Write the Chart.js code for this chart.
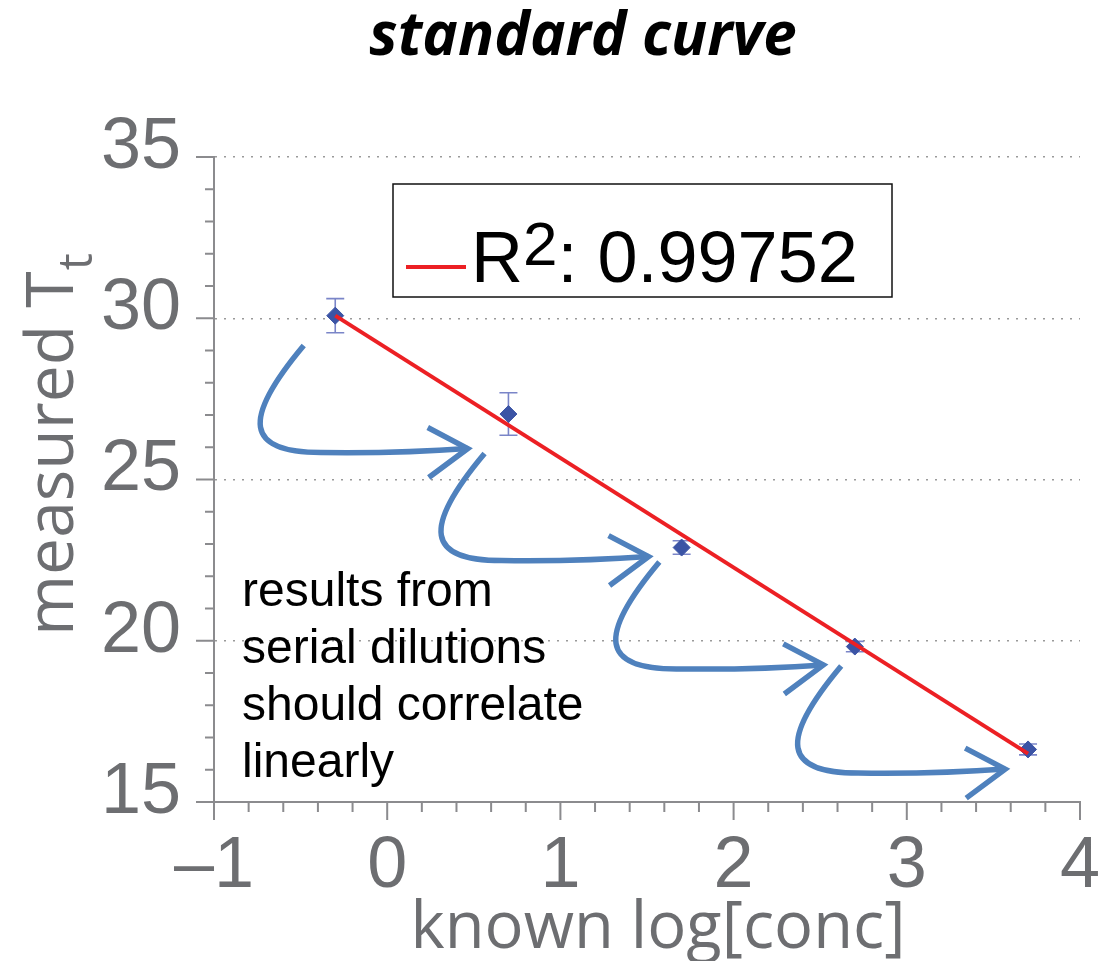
<!DOCTYPE html>
<html>
<head>
<meta charset="utf-8">
<script src="https://cdn.jsdelivr.net/npm/chart.js@4.4.1/dist/chart.umd.min.js"></script>
<style>
html, body { margin: 0; padding: 0; background: #fff; }
#wrap { width: 1099px; height: 961px; }
</style>
</head>
<body>
<div id="wrap"><canvas id="std-curve" width="1099" height="961"></canvas></div>
<script>
// serial dilution standards
const logConc = [-0.3, 0.7, 1.7, 2.7, 3.7];
const measuredTt = [30.08, 27.03, 22.89, 19.82, 16.63];
const errTt = [0.53, 0.66, 0.21, 0.16, 0.17];

// regression line end points
const fitX = [-0.3, 3.7];
const fitY = [30.08, 16.5];

const xTicks = [-1, 0, 1, 2, 3, 4];
const yTicks = [15, 20, 25, 30, 35];

// where each blue arrow points to (data units)
const arrowTipX = [0.465, 1.509, 2.518, 3.568];
const arrowTipY = [25.96, 22.61, 19.25, 16.02];

const noteLines = ["results from", "serial dilutions", "should correlate", "linearly"];
const rSquared = "0.99752";

const labelGray = '#6d6e71';
const axisGray = '#8b8b8e';
const pointBlue = '#3b54a5';
const errBlue = '#7a85c8';
const fitRed = '#ec2024';
const arrowBlue = '#4f81bd';

const tickFont = "'Liberation Sans', Arial, sans-serif";
const titleFont = "'Open Sans', sans-serif";

const errorBars = {
    id: 'errorBars',
    beforeDatasetsDraw(chart) {
        const {ctx, scales: {x, y}} = chart;
        ctx.save();
        ctx.strokeStyle = errBlue;
        ctx.lineWidth = 1.6;
        logConc.forEach((v, i) => {
            const px = x.getPixelForValue(v);
            const top = y.getPixelForValue(measuredTt[i] + errTt[i]);
            const bot = y.getPixelForValue(measuredTt[i] - errTt[i]);
            ctx.beginPath();
            ctx.moveTo(px, top); ctx.lineTo(px, bot);
            ctx.moveTo(px - 9, top); ctx.lineTo(px + 9, top);
            ctx.moveTo(px - 9, bot); ctx.lineTo(px + 9, bot);
            ctx.stroke();
        });
        ctx.restore();
    }
};

const decorations = {
    id: 'decorations',
    afterDraw(chart) {
        const {ctx, chartArea: area, scales: {x, y}} = chart;
        ctx.save();

        // minor and major tick marks
        ctx.strokeStyle = axisGray;
        ctx.lineWidth = 2;
        ctx.beginPath();
        for (let k = 0; k <= 25; k++) {
            const px = x.getPixelForValue(-1 + k * 0.2);
            ctx.moveTo(px, area.bottom);
            ctx.lineTo(px, area.bottom + (k % 5 === 0 ? 18 : 10));
        }
        for (let k = 0; k <= 20; k++) {
            const py = y.getPixelForValue(15 + k);
            ctx.moveTo(area.left, py);
            ctx.lineTo(area.left - (k % 5 === 0 ? 18 : 9), py);
        }
        ctx.stroke();

        // arrows
        ctx.strokeStyle = arrowBlue;
        ctx.lineWidth = 5.5;
        ctx.lineJoin = 'miter';
        arrowTipX.forEach((tx, i) => {
            const X = x.getPixelForValue(tx);
            const Y = y.getPixelForValue(arrowTipY[i]);
            ctx.beginPath();
            ctx.moveTo(X - 164, Y - 103);
            ctx.bezierCurveTo(X - 227, Y - 28, X - 222, Y + 4, X - 147, Y + 4);
            ctx.quadraticCurveTo(X - 67, Y + 5, X, Y);
            ctx.stroke();
            ctx.beginPath();
            ctx.moveTo(X - 40, Y - 21);
            ctx.lineTo(X, Y);
            ctx.lineTo(X - 39, Y + 29);
            ctx.stroke();
        });

        // legend box
        ctx.strokeStyle = '#111';
        ctx.lineWidth = 1.5;
        ctx.strokeRect(393, 184, 499, 113);
        ctx.strokeStyle = fitRed;
        ctx.lineWidth = 4;
        ctx.beginPath();
        ctx.moveTo(406, 267); ctx.lineTo(466, 267);
        ctx.stroke();
        ctx.fillStyle = '#000';
        ctx.textBaseline = 'alphabetic';
        ctx.textAlign = 'left';
        ctx.font = '72px ' + tickFont;
        ctx.fillText('R', 471, 282);
        let lx = 471 + ctx.measureText('R').width;
        ctx.font = '62px ' + tickFont;
        ctx.fillText('2', lx, 265);
        lx += ctx.measureText('2').width;
        ctx.font = '72px ' + tickFont;
        ctx.fillText(': ' + rSquared, lx, 282);

        // note text
        ctx.font = '48px ' + tickFont;
        noteLines.forEach((t, i) => ctx.fillText(t, 242, 606 + i * 57));

        // title
        ctx.font = 'italic bold 60px ' + titleFont;
        ctx.textAlign = 'center';
        ctx.fillText('standard curve', 583, 55);

        // x axis title
        ctx.fillStyle = labelGray;
        ctx.font = '65px ' + titleFont;
        ctx.fillText('known log[conc]', 658, 948);

        // y axis title with subscript
        ctx.translate(73, 636);
        ctx.rotate(-Math.PI / 2);
        ctx.textAlign = 'left';
        ctx.font = '66px ' + titleFont;
        ctx.fillText('measured T', 0, 0);
        const w = ctx.measureText('measured T').width;
        ctx.font = '48px ' + titleFont;
        ctx.fillText('t', w + 1, 19);

        ctx.restore();
    }
};

new Chart(document.getElementById('std-curve'), {
    data: {
        datasets: [{
            type: 'line',
            label: 'fit',
            data: fitX.map((v, i) => ({x: v, y: fitY[i]})),
            borderColor: fitRed,
            borderWidth: 4,
            pointRadius: 0,
            fill: false
        },
        {
            type: 'scatter',
            label: 'measured',
            data: logConc.map((v, i) => ({x: v, y: measuredTt[i]})),
            pointStyle: 'rectRot',
            pointRadius: 8.5,
            backgroundColor: pointBlue,
            borderColor: pointBlue,
            borderWidth: 1
        }]
    },
    options: {
        responsive: false,
        animation: false,
        layout: {
            padding: {top: 157, right: 19, left: 0, bottom: 0}
        },
        plugins: {
            legend: {display: false},
            title: {display: false},
            tooltip: {enabled: false}
        },
        scales: {
            x: {
                type: 'linear',
                min: -1,
                max: 4,
                afterBuildTicks: scale => { scale.ticks = xTicks.map(v => ({value: v})); },
                afterFit: scale => {
                    scale.height = 159;
                    scale.paddingLeft = 0;
                    scale.paddingRight = 0;
                },
                grid: {display: false, drawTicks: false},
                border: {display: true, color: axisGray, width: 2},
                ticks: {
                    color: labelGray,
                    font: {family: tickFont, size: 72},
                    padding: 22,
                    maxRotation: 0,
                    autoSkip: false,
                    callback: v => v < 0 ? '\u2013' + Math.abs(v) : String(v)
                }
            },
            y: {
                type: 'linear',
                min: 15,
                max: 35,
                afterBuildTicks: scale => { scale.ticks = yTicks.map(v => ({value: v})); },
                afterFit: scale => {
                    scale.width = 214;
                    scale.paddingTop = 0;
                    scale.paddingBottom = 0;
                },
                grid: {
                    display: true,
                    drawTicks: false,
                    color: '#9a9a9a',
                    lineWidth: 1.5
                },
                border: {display: true, color: axisGray, width: 2, dash: [2, 7]},
                ticks: {
                    color: labelGray,
                    font: {family: tickFont, size: 72},
                    padding: 33,
                    labelOffset: -9
                }
            }
        }
    },
    plugins: [errorBars, decorations]
});
</script>
</body>
</html>
